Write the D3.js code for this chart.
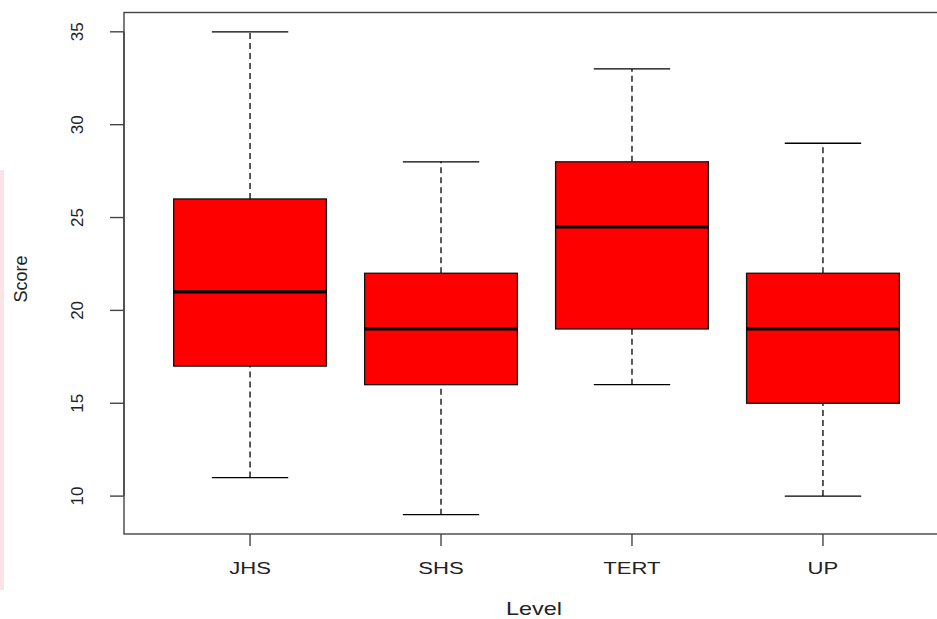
<!DOCTYPE html>
<html>
<head>
<meta charset="utf-8">
<script src="https://cdn.jsdelivr.net/npm/d3@7"></script>
<style>
  html, body { margin: 0; padding: 0; background: #fff; }
  svg { display: block; }
  text { font-family: "Liberation Sans", Arial, sans-serif; fill: #222; }
</style>
</head>
<body>
<svg id="chart" width="937" height="619"></svg>
<script>
// Score distribution by education level (five-number summaries)
const levels  = ["JHS", "SHS", "TERT", "UP"];
const mins    = [11, 9, 16, 10];
const q1s     = [17, 16, 19, 15];
const medians = [21, 19, 24.5, 19];
const q3s     = [26, 22, 28, 22];
const maxs    = [35, 28, 33, 29];
const yTicks  = [10, 15, 20, 25, 30, 35];

const svg = d3.select("#chart");

// faint edge strip
svg.append("rect").attr("x", 0).attr("y", 170).attr("width", 4).attr("height", 420)
  .attr("fill", "#fbe3e7");

// numeric x positions 1..n, with R-style 4% padding on the range 0.5..n+0.5
const n = levels.length;
const xLo = 0.5 - 0.04 * n, xHi = n + 0.5 + 0.04 * n;
const x = d3.scaleLinear().domain([xLo, xHi]).range([124, 949]);

const yMin = d3.min(mins), yMax = d3.max(maxs);
const pad = 0.04 * (yMax - yMin);
const y = d3.scaleLinear().domain([yMin - pad, yMax + pad]).range([534, 12.5]);

const boxHalf = 0.4, capHalf = 0.2;

const data = levels.map((lv, i) => ({
  lv, pos: i + 1, min: mins[i], q1: q1s[i], med: medians[i], q3: q3s[i], max: maxs[i]
}));

const g = svg.append("g");

// whiskers (dashed)
g.selectAll(".whisk-lo").data(data).join("line")
  .attr("x1", d => x(d.pos)).attr("x2", d => x(d.pos))
  .attr("y1", d => y(d.min)).attr("y2", d => y(d.q1))
  .attr("stroke", "#000").attr("stroke-width", 1.3).attr("stroke-dasharray", "6,4");
g.selectAll(".whisk-hi").data(data).join("line")
  .attr("x1", d => x(d.pos)).attr("x2", d => x(d.pos))
  .attr("y1", d => y(d.q3)).attr("y2", d => y(d.max))
  .attr("stroke", "#000").attr("stroke-width", 1.3).attr("stroke-dasharray", "6,4");

// staples
["min", "max"].forEach(k => {
  g.selectAll(".cap-" + k).data(data).join("line")
    .attr("x1", d => x(d.pos - capHalf)).attr("x2", d => x(d.pos + capHalf))
    .attr("y1", d => y(d[k])).attr("y2", d => y(d[k]))
    .attr("stroke", "#000").attr("stroke-width", 1.3);
});

// boxes
g.selectAll(".box").data(data).join("rect")
  .attr("x", d => x(d.pos - boxHalf))
  .attr("width", d => x(d.pos + boxHalf) - x(d.pos - boxHalf))
  .attr("y", d => y(d.q3))
  .attr("height", d => y(d.q1) - y(d.q3))
  .attr("fill", "#ff0000").attr("stroke", "#111").attr("stroke-width", 1.3);

// medians
g.selectAll(".med").data(data).join("line")
  .attr("x1", d => x(d.pos - boxHalf)).attr("x2", d => x(d.pos + boxHalf))
  .attr("y1", d => y(d.med)).attr("y2", d => y(d.med))
  .attr("stroke", "#000").attr("stroke-width", 3.2);

// plot frame
svg.append("rect")
  .attr("x", x(xLo)).attr("y", y(yMax + pad))
  .attr("width", x(xHi) - x(xLo)).attr("height", y(yMin - pad) - y(yMax + pad))
  .attr("fill", "none").attr("stroke", "#444").attr("stroke-width", 1.4);

// y axis: ticks and rotated labels
const yAxis = svg.append("g");
yAxis.append("line")
  .attr("x1", 124).attr("x2", 124)
  .attr("y1", y(d3.min(yTicks))).attr("y2", y(d3.max(yTicks)))
  .attr("stroke", "#444").attr("stroke-width", 1.4);
yAxis.selectAll(".yt").data(yTicks).join("line")
  .attr("x1", 110).attr("x2", 124)
  .attr("y1", d => y(d)).attr("y2", d => y(d))
  .attr("stroke", "#444").attr("stroke-width", 1.4);
yAxis.selectAll(".yl").data(yTicks).join("text")
  .attr("transform", d => `translate(83,${y(d)}) rotate(-90)`)
  .attr("text-anchor", "middle")
  .style("font-size", "17px")
  .text(d => d);

// x axis: ticks and category labels
const xAxis = svg.append("g");
xAxis.selectAll(".xt").data(data).join("line")
  .attr("x1", d => x(d.pos)).attr("x2", d => x(d.pos))
  .attr("y1", 534).attr("y2", 546)
  .attr("stroke", "#444").attr("stroke-width", 1.4);
xAxis.selectAll(".xl").data(data).join("text")
  .attr("transform", d => `translate(${x(d.pos)},574) scale(1.3,1)`)
  .attr("text-anchor", "middle")
  .style("font-size", "17px")
  .text(d => d.lv);

// axis titles
svg.append("text")
  .attr("transform", "translate(534,615) scale(1.3,1)")
  .attr("text-anchor", "middle")
  .style("font-size", "18px")
  .text("Level");
svg.append("text")
  .attr("transform", "translate(27,279) rotate(-90)")
  .attr("text-anchor", "middle")
  .style("font-size", "18px")
  .text("Score");
</script>
</body>
</html>
